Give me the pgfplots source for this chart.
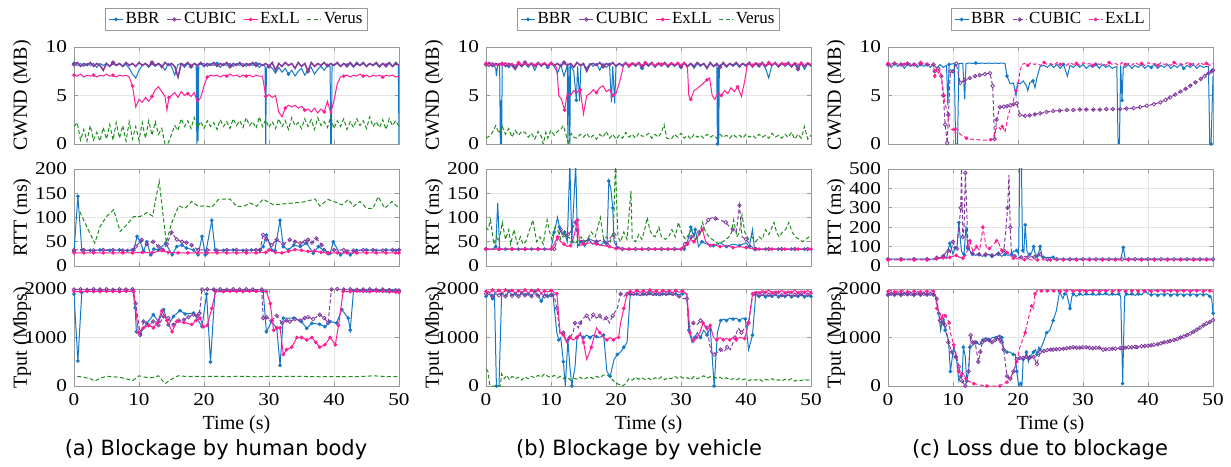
\documentclass[border=0pt]{standalone}
\usepackage{pgfplots}
\pgfplotsset{compat=1.18}
\usepackage{fontspec}
\setmainfont{Liberation Serif}
\newfontfamily\tickfont[FakeStretch=1.18]{Liberation Serif}
\newfontfamily\capfont{DejaVu Sans}
\definecolor{cbbr}{RGB}{20,120,200}
\definecolor{ccub}{RGB}{130,60,160}
\definecolor{cexl}{RGB}{255,30,150}
\definecolor{cver}{RGB}{30,140,30}
\pgfplotsset{
 panel/.style={scale only axis, width=162.5pt, height=48.5pt, xmin=0, xmax=50,
  xtick={0,10,20,30,40,50}, grid=major, major grid style={black!10, line width=0.3pt},
  axis line style={black!40, line width=0.4pt}, tick style={black!40, line width=0.4pt},
  major tick length=2pt, tick align=inside,
  tick label style={font=\tickfont\fontsize{9}{10}\selectfont},
  label style={font=\fontsize{10}{11}\selectfont},
  ylabel style={at={(axis description cs:-0.16,0.5)}, anchor=center},
  xlabel style={at={(axis description cs:0.5,-0.40)}, anchor=center},
  /pgf/number format/assume math mode=true, /pgf/number format/1000 sep={},
  clip mode=individual, anchor=south west,
  legend style={at={(0.5,1)}, anchor=south, yshift=8pt, legend columns=-1, draw=black!40,
   line width=0.4pt, font=\fontsize{8.5}{9}\selectfont, inner xsep=1.5pt, inner ysep=1pt,
   nodes={inner xsep=1pt, inner ysep=1pt},
   /tikz/every even column/.append style={column sep=2.5pt}},
  legend image code/.code={\draw[mark repeat=2,mark phase=2,#1] plot coordinates {(0pt,0pt) (3.5pt,0pt) (7pt,0pt)};}},
 notx/.style={xticklabels={}},
 cw/.style={ymin=0, ymax=10, ytick={0,5,10}, ylabel={CWND (MB)}},
 rt/.style={ymin=0, ymax=200, ytick={0,50,100,150,200}, ylabel={RTT (ms)}},
 tp/.style={ymin=0, ymax=2000, ytick={0,1000,2000}, ylabel={Tput (Mbps)}, xlabel={Time (s)}},
 sbbr/.style={cbbr, solid, line width=0.5pt, mark=*, mark size=0.65pt, mark options={solid, fill=cbbr}},
 scub/.style={ccub, dash pattern=on 2pt off 1.2pt, line width=0.5pt, mark=o, mark size=0.9pt, mark options={solid, line width=0.4pt}},
 sexl/.style={cexl, solid, line width=0.5pt, mark=*, mark size=0.65pt, mark options={solid, fill=cexl}},
 sver/.style={cver, dash pattern=on 2pt off 1.2pt, line width=0.5pt, mark=none},
}
\begin{document}
\begin{tikzpicture}
\path[use as bounding box] (0,0) rectangle (615.5pt,233pt);
%================ (a) =================
\begin{axis}[panel, cw, notx, at={(37pt,161pt)}]
\addplot[sbbr, mark repeat=12] coordinates {(0,8.3)(0.5,8.1)(1,8.3)(1.5,8.0)(2,8.3)(2.5,8.1)(3,8.3)(3.5,7.9)(4,8.3)(4.5,8.1)(5,8.3)(5.5,8.0)(6,8.3)(6.5,8.1)(7,8.3)(7.5,8.0)(8,8.2)(8.5,7.8)(9,7.2)(9.5,6.8)(10,7.6)(10.5,8.1)(11,8.3)(11.5,7.9)(12,8.3)(12.5,8.0)(13,8.3)(13.5,8.1)(14,7.6)(14.5,8.3)(15,8.0)(15.5,7.1)(16,8.2)(16.5,8.3)(17,7.9)(17.5,8.3)(18,8.0)(18.5,8.3)(18.8,8.2)(18.9,0)(19.0,8.0)(19.1,0.3)(19.2,8.2)(19.5,8.2)(20,8.3)(20.5,8.0)(21,8.3)(21.5,8.1)(22,8.3)(22.5,7.9)(23,8.3)(23.5,8.1)(24,8.3)(24.5,8.0)(25,8.3)(25.5,8.1)(26,8.3)(26.5,8.0)(27,8.3)(27.5,8.1)(28,8.3)(28.5,7.9)(29,8.2)(29.4,8.0)(29.5,0)(29.6,7.8)(30,8.1)(30.5,7.8)(31,7.3)(31.5,7.9)(32,7.4)(32.5,7.8)(33,7.2)(33.5,7.6)(34,7.0)(34.5,7.5)(35,7.8)(35.5,7.1)(36,7.6)(36.5,7.9)(37,7.2)(37.5,7.7)(38,8.0)(38.5,7.6)(39,8.1)(39.4,8.0)(39.5,0)(39.6,0)(39.7,8.1)(40,8.2)(40.5,8.3)(41,8.0)(41.5,8.3)(42,8.1)(42.5,8.3)(43,7.9)(43.5,8.3)(44,8.1)(44.5,8.3)(45,8.0)(45.5,8.3)(46,8.1)(46.5,8.3)(47,7.9)(47.5,8.3)(48,8.1)(48.5,8.3)(49,8.0)(49.5,8.3)(49.9,8.2)(50,0)};
\addplot[scub, solid, line width=0.8pt, mark repeat=12] coordinates {(0,8.2)(0.5,8.4)(1,8.0)(1.5,8.3)(2,8.1)(2.5,8.4)(3,8.0)(3.5,8.3)(4,8.1)(4.5,7.6)(5,8.3)(5.5,8.0)(6,8.4)(6.5,8.1)(7,8.3)(7.5,8.0)(8,8.4)(8.5,8.1)(9,8.3)(9.5,8.0)(10,8.4)(10.5,8.1)(11,8.3)(11.5,8.0)(12,8.4)(12.5,8.1)(13,8.3)(13.5,7.9)(14,8.4)(14.5,8.1)(15,8.3)(15.5,8.0)(16,6.9)(16.5,8.3)(17,8.1)(17.5,8.4)(18,8.0)(18.5,8.3)(19,8.1)(19.5,8.4)(20,8.0)(20.5,8.3)(21,8.1)(21.5,8.4)(22,8.0)(22.5,8.3)(23,8.1)(23.5,8.4)(24,8.0)(24.5,8.3)(25,8.1)(25.5,8.4)(26,8.0)(26.5,8.3)(27,8.1)(27.5,8.4)(28,8.0)(28.5,8.3)(29,8.1)(29.5,8.3)(30,8.0)(30.5,8.4)(31,7.6)(31.5,8.3)(32,8.0)(32.5,8.4)(33,8.1)(33.5,8.3)(34,7.8)(34.5,8.4)(35,8.0)(35.5,8.3)(36,7.5)(36.5,8.4)(37,8.0)(37.5,8.3)(38,8.1)(38.5,8.4)(39,8.0)(39.5,8.3)(40,8.1)(40.5,8.4)(41,8.0)(41.5,8.3)(42,8.1)(42.5,8.4)(43,8.0)(43.5,8.3)(44,8.1)(44.5,8.4)(45,8.0)(45.5,8.3)(46,8.1)(46.5,8.4)(47,8.0)(47.5,8.3)(48,8.1)(48.5,8.4)(49,8.0)(49.5,8.3)(50,8.1)};
\addplot[sexl, mark repeat=6] coordinates {(0,7.1)(0.5,7.0)(1,7.2)(1.5,6.9)(2,7.1)(2.5,7.0)(3,7.1)(3.5,6.9)(4,7.1)(4.5,7.0)(5,7.2)(5.5,7.0)(6,7.1)(6.5,6.9)(7,7.1)(7.5,7.0)(8,7.1)(8.5,6.9)(9,6.0)(9.5,3.8)(10,4.6)(10.5,4.3)(11,4.8)(11.5,4.4)(12,4.9)(12.5,5.6)(13,5.9)(13.5,5.4)(14,4.9)(14.3,3.5)(14.6,4.8)(15,5.0)(15.5,5.3)(16,4.8)(16.5,5.4)(17,5.0)(17.5,5.2)(18,4.9)(18.5,5.3)(19,4.3)(19.5,4.8)(20,6.0)(20.5,6.9)(21,7.1)(21.5,7.0)(22,7.1)(22.5,6.9)(23,7.1)(23.5,7.0)(24,7.2)(24.5,7.0)(25,7.1)(25.5,6.9)(26,7.1)(26.5,7.0)(27,7.1)(27.5,6.9)(28,7.1)(28.5,7.0)(29,7.0)(29.5,4.9)(30,5.1)(30.5,4.8)(31,5.0)(31.5,3.3)(32,2.8)(32.5,3.7)(33,4.0)(33.5,3.8)(34,4.0)(34.5,3.7)(35,3.9)(35.5,3.5)(36,3.6)(36.5,3.3)(37,3.7)(37.5,3.2)(38,3.6)(38.5,3.3)(39,4.4)(39.5,3.2)(40,4.5)(40.5,6.2)(41,6.9)(41.5,7.0)(42,7.1)(42.5,6.9)(43,7.1)(43.5,7.0)(44,7.2)(44.5,7.0)(45,7.1)(45.5,6.9)(46,7.1)(46.5,7.0)(47,7.1)(47.5,6.9)(48,7.1)(48.5,7.0)(49,7.1)(49.5,6.9)(50,7.0)};
\addplot[sver] coordinates {(0,1.8)(0.5,2.2)(1,0.4)(1.5,1.5)(2,0.3)(2.5,1.9)(3,0.4)(3.5,1.2)(4,0.3)(4.5,1.7)(5,0.5)(5.5,2.0)(6,0.4)(6.5,2.2)(7,0.6)(7.5,1.9)(8,0.3)(8.5,2.3)(9,0.5)(9.5,1.8)(10,0.4)(10.5,2.2)(11,0.6)(11.5,2.4)(12,0.9)(12.5,2.3)(13,1.0)(13.5,1.6)(14,0.0)(14.5,0.1)(15,1.0)(15.5,1.9)(16,1.4)(16.5,2.6)(17,1.8)(17.5,2.4)(18,1.6)(18.5,2.7)(19,1.7)(19.5,2.3)(20,1.6)(20.5,2.4)(21,1.8)(21.5,2.2)(22,1.5)(22.5,2.5)(23,1.8)(23.5,2.3)(24,1.6)(24.5,2.6)(25,1.9)(25.5,2.4)(26,1.7)(26.5,2.7)(27,1.9)(27.5,2.3)(28,1.6)(28.5,2.8)(29,1.8)(29.5,2.5)(30,1.7)(30.5,2.3)(31,1.6)(31.5,2.6)(32,1.8)(32.5,2.4)(33,1.5)(33.5,2.7)(34,1.9)(34.5,2.2)(35,1.6)(35.5,2.6)(36,1.8)(36.5,2.5)(37,1.5)(37.5,2.7)(38,1.9)(38.5,2.3)(39,1.7)(39.5,2.8)(40,1.6)(40.5,2.4)(41,1.8)(41.5,2.6)(42,1.5)(42.5,2.3)(43,1.7)(43.5,2.6)(44,1.9)(44.5,2.4)(45,1.6)(45.5,2.8)(46,1.8)(46.5,2.3)(47,1.7)(47.5,2.5)(48,1.5)(48.5,2.6)(49,1.9)(49.5,2.4)(50,1.8)};
\legend{BBR,CUBIC,ExLL,Verus}
\end{axis}
\begin{axis}[panel, rt, notx, at={(37pt,100pt)}]
\addplot[sbbr] coordinates {(0,30)(0.6,144)(1.2,33)(2.5,32)(4,33)(5.5,32)(7,33)(8.2,32)(9.2,33)(9.7,61)(10.2,50)(10.7,30)(11.2,50)(11.8,23)(12.3,35)(13,33)(14.1,47)(15.1,23)(15.8,40)(16.6,43)(17.3,37)(18.4,33)(19.1,23)(19.7,61)(20.2,23)(21.2,94)(21.7,33)(23,32)(24.5,33)(26,32)(27.3,33)(28.6,33)(29.1,40)(29.6,64)(30.4,33)(30.9,32)(31.7,94)(32.2,40)(33,33)(33.8,43)(34.8,40)(35.8,47)(36.8,26)(37.6,40)(38.4,33)(39.4,26)(39.9,50)(41,23)(42,30)(42.5,23)(43.5,32)(45,33)(46.5,32)(48,33)(49.5,32)(50,32)};
\addplot[scub] coordinates {(0,33)(1.5,33)(3,32)(4.5,33)(6,33)(7.5,32)(9,33)(9.5,40)(10.4,54)(11.2,45)(12.2,50)(13,40)(13.7,33)(14.3,45)(15,69)(15.8,55)(16.6,50)(17.3,48)(18.1,43)(19.1,33)(20.5,33)(22,32)(23.5,33)(25,33)(26.5,32)(28,33)(28.6,33)(29.1,64)(29.6,55)(30.4,43)(31.2,54)(32.2,45)(33.2,54)(34,50)(34.8,47)(35.5,50)(36,54)(36.6,48)(37.3,57)(38.1,43)(39.1,26)(40,33)(41.5,33)(43,32)(44.5,33)(46,33)(47.5,32)(49,33)(50,33)};
\addplot[sexl] coordinates {(0,27)(1.5,27)(3,27)(4.5,27)(6,27)(7.5,27)(9,27)(10.5,28)(12,27)(13.5,32)(14.5,28)(16,27)(17.5,27)(19,27)(20.5,27)(22,27)(23.5,27)(25,27)(26.5,27)(28,27)(29.5,28)(30,33)(31,28)(32,27)(33,30)(34,34)(35,32)(36,30)(37,31)(38,28)(39,27)(40.5,27)(42,27)(43.5,27)(45,27)(46.5,27)(48,27)(49.5,27)(50,27)};
\addplot[sver] coordinates {(0.9,112)(2,80)(3.2,47)(4,81)(5,102)(6.1,116)(7.1,71)(8.1,85)(9.2,102)(10.2,102)(11.2,110)(12.1,103)(13.1,175)(14.2,48)(15,88)(16.1,124)(17.1,119)(18.1,133)(19.1,123)(20.2,124)(21.2,121)(22.2,137)(23.1,138)(24,138)(25,123)(26.1,123)(27.1,130)(28.1,123)(29.1,138)(30.7,126)(32.2,128)(33.8,130)(35.3,132)(37.1,138)(37.8,124)(39.1,137)(40.4,131)(41.2,126)(42.2,137)(43,123)(44,133)(45,119)(46,119)(46.8,143)(47.8,119)(48.9,133)(49.9,121)};
\end{axis}
\begin{axis}[panel, tp, at={(37pt,40pt)}]
\addplot[sbbr] coordinates {(0,1895)(0.6,516)(1.2,1930)(2,1960)(3,1950)(4,1965)(5,1955)(6,1960)(7,1950)(8,1960)(9.1,1955)(9.4,1612)(9.6,1117)(10.2,1082)(11.2,1294)(12.2,1470)(13,1329)(13.8,1577)(14.5,1258)(15.3,1435)(16.3,1555)(17.1,1485)(18.4,1506)(19.7,1223)(20.4,1895)(21,495)(21.7,1965)(23,1960)(24,1965)(25,1960)(26,1955)(27,1965)(28,1960)(29.1,1955)(29.6,1117)(30.4,1329)(31.2,1188)(31.7,424)(32.2,1400)(33.8,1400)(35,1329)(35.8,1188)(36.6,1294)(37.8,1273)(38.6,1223)(39.4,1329)(40.4,1300)(41.2,1577)(42.2,1400)(42.5,1150)(43,1965)(44,1960)(45,1955)(46,1965)(47,1960)(48,1955)(49,1960)(50,1955)};
\addplot[scub] coordinates {(0,1990)(1,1995)(2,1985)(3,1995)(4,1990)(5,1995)(6,1985)(7,1995)(8,1990)(9,1995)(9.5,1700)(10.2,1050)(10.7,1329)(11.5,1250)(12.2,1330)(13,1250)(13.8,1435)(14.5,1400)(15.3,1258)(16.1,1350)(16.9,1364)(17.6,1420)(18.4,1470)(19,1450)(19.3,1500)(19.7,1990)(20.5,1995)(21.5,1990)(22.5,1995)(23.5,1985)(24.5,1995)(25.5,1990)(26.5,1995)(27.5,1990)(28.9,1990)(29.1,1400)(29.6,1420)(30.4,1350)(31.2,1450)(32,1300)(32.7,1350)(33.2,1330)(34,1380)(34.8,1350)(35.5,1400)(36,1420)(36.8,1380)(37.8,1470)(38.5,1400)(39.1,1300)(39.6,1990)(40.5,2000)(41.5,1990)(42.5,1995)(43.5,1985)(44.5,1990)(45.5,1995)(46.5,1985)(47.5,1990)(48.5,1980)(49.5,1975)(50,1970)};
\addplot[sexl] coordinates {(0,1950)(1,1945)(2,1955)(3,1950)(4,1945)(5,1955)(6,1950)(7,1945)(8,1955)(9.2,1950)(9.9,1100)(10.7,1200)(11.5,1250)(12.2,1200)(12.8,1300)(13.5,1550)(14.3,1350)(15.1,1120)(15.8,1330)(16.9,1310)(18.1,1270)(18.8,1350)(19.4,1400)(19.9,1220)(20.5,1250)(21.2,1600)(21.8,1950)(23,1945)(24,1955)(25,1950)(26,1945)(27,1955)(28,1950)(29.6,1950)(30.2,1700)(30.7,1150)(31.2,1200)(31.7,1200)(32.2,650)(32.7,750)(33.5,800)(34.3,1000)(35,1000)(35.8,950)(36.6,1000)(37.2,900)(37.8,800)(38.6,850)(39.4,1000)(40.2,850)(40.7,1250)(41.4,1950)(42.5,1945)(43.5,1955)(44.5,1950)(45.5,1945)(46.5,1955)(47.5,1950)(48.5,1940)(49.5,1935)(50,1930)};
\addplot[sver] coordinates {(0.5,200)(1.5,180)(2.5,150)(3.2,100)(4,160)(5,200)(6,190)(7,180)(8,150)(9,110)(10,210)(11,180)(12,170)(13,210)(14,50)(15,140)(16,210)(17,200)(18,195)(19,200)(20,195)(22,200)(24,195)(26,200)(28,190)(30,200)(32,195)(34,200)(36,195)(38,190)(40,195)(42,190)(44,195)(46,210)(48,195)(50,195)};
\end{axis}
%================ (b) =================
\begin{axis}[panel, cw, notx, at={(243pt,161pt)}]
\addplot[sbbr, mark repeat=12] coordinates {(0,8.2)(0.5,8.0)(1,8.3)(1.5,7.8)(1.6,7.0)(1.8,8.2)(2.1,8.1)(2.2,0)(2.3,4.5)(2.4,0)(2.5,8.1)(3,8.3)(3.5,8.0)(4,8.3)(4.5,7.9)(5,8.3)(5.5,8.0)(6,8.3)(6.5,7.9)(7,8.3)(7.5,7.6)(8,8.3)(8.5,8.0)(9,8.3)(9.5,7.9)(10,8.3)(10.5,8.0)(11,7.3)(11.5,8.2)(12,7.0)(12.5,8.1)(12.6,0)(12.75,8.0)(12.9,0)(13.0,8.1)(13.5,7.5)(13.9,4.5)(14.1,8.0)(14.4,4.4)(14.6,8.1)(15,8.2)(15.5,7.8)(16,8.3)(16.5,8.0)(17,8.3)(17.5,7.6)(18,8.3)(18.5,7.9)(19,8.2)(19.3,4.3)(19.5,8.0)(19.8,4.2)(20,8.1)(20.5,8.3)(21,8.0)(21.5,8.3)(22,7.9)(22.5,8.3)(23,8.0)(23.5,8.3)(24,7.8)(24.5,8.3)(25,8.0)(25.5,8.3)(26,7.9)(26.5,8.3)(27,8.0)(27.5,8.3)(28,7.9)(28.5,8.3)(29,8.0)(29.5,8.3)(30,7.9)(30.5,8.3)(31,8.0)(31.5,8.3)(32,7.8)(32.5,8.3)(33,8.0)(33.5,8.3)(34,7.9)(34.5,8.3)(35,8.0)(35.5,8.2)(35.6,0)(35.7,7.9)(35.8,0)(35.9,8.1)(36.5,8.3)(37,7.9)(37.5,8.3)(38,8.0)(38.5,8.3)(39,7.9)(39.5,8.3)(40,8.0)(40.5,8.3)(41,7.9)(41.5,8.3)(42,8.0)(42.5,8.3)(43,7.8)(43.5,6.8)(44,8.2)(44.5,8.3)(45,7.9)(45.5,8.3)(46,8.0)(46.5,8.3)(47,7.9)(47.5,8.3)(48,8.0)(48.5,8.3)(49,7.7)(49.5,8.3)(50,8.0)};
\addplot[scub, solid, line width=0.8pt, mark repeat=12] coordinates {(0,8.2)(0.5,8.4)(1,8.0)(1.5,8.3)(2,8.1)(2.5,8.4)(3,8.0)(3.5,8.3)(4,8.1)(4.5,7.7)(5,8.3)(5.5,8.0)(6,8.4)(6.5,8.1)(7,8.3)(7.5,8.0)(8,8.4)(8.5,8.1)(9,8.3)(9.5,8.0)(10,8.4)(10.5,8.1)(11,8.3)(11.5,8.0)(12,8.4)(12.5,8.1)(13,8.3)(13.5,7.9)(14,8.4)(14.5,8.1)(15,8.3)(15.5,7.5)(16,8.2)(16.5,8.3)(17,8.1)(17.5,8.4)(18,8.0)(18.5,8.3)(19,8.1)(19.5,8.4)(20,8.0)(20.5,8.3)(21,8.1)(21.5,8.4)(22,8.0)(22.5,8.3)(23,8.1)(23.5,8.4)(24,8.0)(24.5,8.3)(25,8.1)(25.5,8.4)(26,8.0)(26.5,8.3)(27,8.1)(27.5,8.4)(28,8.0)(28.5,8.3)(29,8.1)(29.5,8.3)(30,8.0)(30.5,8.4)(31,8.0)(31.5,8.3)(32,8.0)(32.5,8.4)(33,8.1)(33.5,8.3)(34,7.8)(34.5,8.4)(35,8.0)(35.5,8.3)(36,7.9)(36.5,8.4)(37,8.0)(37.5,8.3)(38,8.1)(38.5,8.4)(39,8.0)(39.5,8.3)(40,8.1)(40.5,8.4)(41,8.0)(41.5,8.3)(42,8.1)(42.5,8.4)(43,8.0)(43.5,8.3)(44,8.1)(44.5,8.4)(45,8.0)(45.5,8.3)(46,8.1)(46.5,8.4)(47,8.0)(47.5,8.3)(48,7.7)(48.5,8.4)(49,8.0)(49.5,8.3)(50,8.1)};
\addplot[sexl, mark repeat=5] coordinates {(0,8.3)(0.5,8.1)(1,8.4)(1.5,8.1)(2,8.3)(2.5,8.2)(3,8.4)(3.5,8.1)(4,8.3)(4.5,8.1)(5,8.4)(5.5,8.2)(6,8.3)(6.5,8.1)(7,8.4)(7.5,8.1)(8,8.3)(8.5,8.2)(9,8.4)(9.5,8.1)(10,8.3)(10.5,8.2)(10.9,7.8)(11.2,5.0)(11.6,4.6)(12.1,3.5)(12.5,5.2)(13,5.0)(13.5,5.5)(14,5.3)(14.5,5.6)(15,3.1)(15.5,5.0)(16,5.2)(16.5,5.6)(17,5.3)(17.5,5.8)(18,6.0)(18.5,5.4)(19,5.6)(19.5,5.0)(20,5.2)(20.6,6.5)(21.2,8.2)(21.5,8.3)(22,8.1)(22.5,8.4)(23,8.2)(23.5,8.3)(24,8.1)(24.5,8.4)(25,8.2)(25.5,8.3)(26,8.1)(26.5,8.4)(27,8.2)(27.5,8.3)(28,8.1)(28.5,8.4)(29,8.2)(29.5,8.3)(30,8.1)(30.5,8.4)(31,7.8)(31.2,5.0)(31.5,4.6)(32,5.5)(32.5,5.7)(33,6.0)(33.5,6.3)(34,6.6)(34.4,6.8)(34.8,5.0)(35.2,4.6)(35.7,5.3)(36.2,5.0)(36.7,5.5)(37.2,5.2)(37.7,5.8)(38.2,5.4)(38.7,5.9)(39.3,4.9)(39.8,6.5)(40.2,8.2)(40.5,8.3)(41,8.1)(41.5,8.4)(42,8.2)(42.5,8.3)(43,8.1)(43.5,8.4)(44,8.2)(44.5,8.3)(45,8.1)(45.5,8.4)(46,8.2)(46.5,8.3)(47,8.1)(47.5,8.4)(48,8.2)(48.5,8.3)(49,8.1)(49.5,8.4)(50,8.2)};
\addplot[sver] coordinates {(0,0.6)(0.5,0.8)(1,1.2)(1.5,1.9)(2,1.1)(2.5,1.8)(3,1.0)(3.5,1.6)(4,0.7)(4.5,1.4)(5,0.9)(5.5,1.3)(6,1.2)(6.5,0.7)(7,1.1)(7.5,0.5)(8,1.3)(8.5,0.8)(8.8,0.0)(9.2,1.2)(9.5,0.6)(10,1.4)(10.5,0.9)(11,1.3)(11.5,1.5)(11.9,1.9)(12.3,1.0)(12.7,0.0)(13.1,1.1)(13.5,0.7)(14,0.6)(14.5,1.0)(15,0.7)(15.5,1.1)(16,0.6)(16.5,0.9)(17,0.5)(17.5,1.0)(18,0.7)(18.5,1.3)(19,0.6)(19.5,1.0)(20,0.5)(20.5,0.9)(21,0.6)(21.5,1.2)(22,0.7)(22.5,1.0)(23,0.6)(23.5,1.1)(24,0.8)(24.5,0.8)(25,1.1)(25.5,0.6)(26,1.0)(26.5,0.7)(27,1.2)(27.4,2.0)(27.8,0.6)(28.5,0.5)(29,1.0)(29.5,0.7)(30,1.1)(30.5,0.6)(31,0.9)(31.5,0.5)(32,1.0)(32.5,0.7)(33,0.9)(33.5,0.6)(34,1.0)(34.5,0.7)(35,0.9)(35.5,0.6)(36,1.0)(36.5,0.7)(37,0.9)(37.5,0.6)(38,1.0)(38.5,0.7)(39,0.9)(39.5,0.6)(40,1.0)(40.5,0.7)(41,0.9)(41.5,0.6)(42,1.0)(42.5,0.7)(43,0.9)(43.5,0.6)(44,1.1)(44.5,0.7)(45,0.9)(45.5,0.6)(46,1.0)(46.5,0.7)(47,1.2)(47.5,0.5)(48,1.0)(48.5,0.6)(49,1.8)(49.5,0.5)(50,0.9)};
\legend{BBR,CUBIC,ExLL,Verus}
\end{axis}
\begin{axis}[panel, rt, notx, at={(243pt,100pt)}]
\addplot[sbbr, mark repeat=2] coordinates {(0,35)(1,35)(1.5,40)(1.8,130)(2.1,35)(2.4,35)(3,35)(4,35)(5,35)(6,35)(7,35)(8,35)(9,35)(10,35)(10.5,70)(11,100)(11.3,80)(11.7,65)(12.1,70)(12.5,50)(12.9,210)(13.2,50)(13.8,210)(14.1,40)(14.6,50)(15.2,40)(15.8,55)(16.4,45)(17,50)(17.6,42)(18.2,50)(18.6,45)(18.9,175)(19.2,160)(19.5,120)(19.7,50)(20.2,38)(21,35)(22,35)(23,35)(24,35)(25,35)(26,35)(27,35)(28,35)(29,35)(30.5,35)(31,50)(31.5,80)(32,60)(32.2,75)(32.7,40)(33.2,50)(34,45)(35,42)(36,48)(37,40)(38,45)(39,42)(40,48)(40.5,40)(41,75)(41.3,35)(42,35)(43,35)(44,35)(45,35)(46,35)(47,35)(48,35)(49,35)(50,35)};
\addplot[scub, mark repeat=2] coordinates {(0,35)(1,35)(2,35)(3,35)(4,35)(5,35)(6,35)(7,35)(8,35)(9,35)(10.5,35)(11,55)(11.5,75)(12,60)(12.6,65)(13,70)(13.8,90)(14.1,55)(15,50)(16,55)(17,50)(18.1,55)(18.6,45)(19.2,60)(19.7,65)(20.2,40)(21,35)(22,35)(23,35)(24,35)(25,35)(26,35)(27,35)(28,35)(29,35)(30,35)(30.6,45)(31,50)(31.6,60)(32.2,55)(32.8,70)(33.5,80)(34.2,95)(34.8,100)(35.3,98)(36,95)(36.9,90)(37.5,80)(38,75)(38.5,70)(39,125)(39.4,60)(40,55)(40.8,40)(41.5,35)(42.5,35)(43.5,35)(44.5,35)(45.5,35)(46.5,35)(47.5,35)(48.5,35)(49.5,35)(50,35)};
\addplot[sexl, mark repeat=2] coordinates {(0,35)(1,35)(2,35)(3,35)(4,35)(5,35)(6,35)(7,35)(8,35)(9,35)(10,35)(10.5,45)(11,60)(11.5,50)(12,45)(12.5,40)(13,42)(13.5,60)(14.1,95)(14.4,42)(15,45)(16,48)(17,45)(18,42)(19,40)(19.5,38)(20,36)(21,35)(22,35)(23,35)(24,35)(25,35)(26,35)(27,35)(28,35)(29,35)(30,35)(30.5,40)(31,45)(31.5,55)(32,50)(32.5,60)(33.3,75)(33.8,50)(34.5,42)(35,45)(36,40)(37,42)(38,38)(39,40)(40,38)(41,36)(42,35)(43,35)(44,35)(45,35)(46,35)(47,35)(48,35)(49,35)(50,35)};
\addplot[sver] coordinates {(0,80)(0.3,75)(0.7,95)(1.2,45)(1.6,60)(2,50)(2.5,90)(3,55)(3.5,75)(3.8,45)(4.3,75)(4.8,45)(5.3,60)(5.7,45)(6.1,50)(6.6,70)(7.2,95)(7.8,50)(8.3,60)(8.8,45)(9.4,95)(9.8,70)(10.1,55)(10.6,80)(11,75)(11.5,55)(12,65)(12.6,60)(13.2,55)(13.7,45)(14.2,55)(14.6,60)(15.1,50)(15.6,55)(16.2,70)(16.8,60)(17.3,85)(17.6,100)(18.1,55)(18.6,60)(19.1,50)(19.6,70)(19.9,210)(20.3,60)(20.7,50)(21.2,70)(21.7,55)(22.3,155)(22.5,55)(23,50)(23.5,65)(24,55)(24.4,75)(24.8,100)(25.2,75)(25.5,65)(26,60)(26.6,80)(27,60)(27.6,55)(28.1,60)(28.6,75)(29.1,60)(29.6,90)(30.2,65)(30.7,55)(31.2,65)(31.7,75)(32.2,55)(32.8,60)(33.3,90)(33.8,70)(34.3,60)(34.8,55)(35.3,50)(35.8,45)(36.4,50)(36.9,55)(37.4,60)(37.8,70)(38.1,95)(38.6,60)(39,70)(39.4,105)(39.8,70)(40.4,55)(40.9,60)(41.5,50)(42,60)(42.5,55)(43,75)(43.5,65)(44,80)(44.3,90)(44.7,70)(45.1,60)(45.6,70)(46.1,75)(46.6,90)(47.1,70)(47.6,60)(48.2,55)(48.7,50)(49.2,55)(49.7,60)(50,58)};
\end{axis}
\begin{axis}[panel, tp, at={(243pt,40pt)}]
\addplot[sbbr, mark repeat=2] coordinates {(0,1850)(0.5,1900)(1,1800)(1.3,1900)(1.6,0)(2,0)(2.4,1900)(3,1850)(3.5,1950)(4,1880)(4.5,1900)(5,1850)(5.5,1920)(6,1870)(6.5,1900)(7,1850)(7.5,1950)(8,1880)(8.5,1750)(9,1900)(9.5,1850)(10,1900)(10.3,1880)(10.9,1100)(11.2,950)(11.5,1000)(11.9,500)(12.2,0)(12.6,950)(12.9,400)(13.2,0)(13.7,400)(14,1000)(14.5,1050)(15,1000)(15.5,1050)(16,1000)(16.5,1050)(17,1020)(17.5,1000)(18.1,1050)(18.6,300)(19.1,200)(19.7,550)(20.2,650)(20.7,700)(21.2,800)(21.7,900)(22.2,1900)(22.7,1880)(23.2,1900)(23.7,1860)(24.2,1900)(24.7,1880)(25.2,1920)(25.7,1870)(26.2,1900)(26.7,1860)(27.2,1900)(27.7,1880)(28.2,1910)(28.7,1870)(29.2,1900)(29.7,1880)(30.2,1900)(30.9,1900)(31.2,1150)(31.7,900)(32.1,1000)(32.5,1100)(33,1000)(33.5,1150)(34,1050)(34.5,1200)(35.1,0)(35.6,1100)(36.1,1350)(36.6,1380)(37,1350)(37.5,1400)(38,1380)(38.5,1400)(39,1350)(39.5,1400)(39.9,1380)(40.4,750)(41,1050)(41.5,1900)(42,1850)(42.5,1880)(43,1840)(43.5,1870)(44,1850)(44.5,1890)(45,1840)(45.5,1870)(46,1850)(46.5,1880)(47,1840)(47.5,1870)(48,1850)(48.5,1880)(49,1840)(49.5,1860)(50,1850)};
\addplot[scub, mark repeat=2] coordinates {(0,1900)(0.5,1950)(1,1850)(1.5,1900)(2,1870)(2.5,1920)(3,1850)(3.5,1900)(4,1860)(4.5,1930)(5,1850)(5.5,1900)(6,1870)(6.5,1920)(7,1850)(7.5,1900)(8,1860)(8.5,1910)(9,1850)(9.5,1900)(10,1870)(10.5,1850)(10.9,1600)(11.4,1050)(11.9,1100)(12.4,900)(12.9,1000)(13.4,1100)(13.7,1300)(14.2,1200)(14.5,1300)(15,1400)(15.5,1450)(16,1350)(16.5,1470)(17,1400)(17.5,1450)(18,1350)(18.5,1400)(19,1300)(19.5,1450)(20.2,1600)(20.7,1900)(21.2,1850)(21.7,1900)(22.2,1870)(22.7,1900)(23.2,1880)(23.7,1900)(24.2,1870)(24.7,1900)(25.2,1880)(25.7,1900)(26.2,1870)(26.7,1900)(27.2,1880)(27.7,1900)(28.2,1870)(28.7,1900)(29.2,1880)(29.7,1850)(30.3,1800)(30.9,1800)(31.2,1200)(31.9,1300)(32.4,1250)(33,1350)(33.5,1300)(34,1200)(34.6,700)(35.1,650)(35.6,700)(36.1,750)(36.6,700)(37.1,800)(37.6,750)(38.3,1000)(38.8,1200)(39.3,1100)(39.8,1200)(40.4,1300)(41,1850)(41.5,1900)(42,1850)(42.5,1900)(43,1860)(43.5,1880)(44,1840)(44.5,1900)(45,1850)(45.5,1870)(46,1830)(46.5,1900)(47,1850)(47.5,1880)(48,1840)(48.5,1890)(49,1850)(49.5,1880)(50,1880)};
\addplot[sexl, mark repeat=2] coordinates {(0,1950)(0.5,1920)(1,1980)(1.5,1930)(2,1970)(2.5,1920)(3,1980)(3.5,1940)(4,1970)(4.5,1920)(5,1960)(5.5,1930)(6,1980)(6.5,1920)(7,1970)(7.5,1930)(8,1980)(8.5,1920)(9,1960)(9.5,1940)(10,1970)(10.5,1930)(10.9,1900)(11.4,1100)(11.9,1050)(12.4,900)(12.9,1000)(13.4,950)(14,1000)(14.5,1100)(15,900)(15.5,550)(16.2,800)(17,1200)(17.5,1100)(18.1,1000)(18.6,950)(19.1,1000)(19.6,950)(20.1,1000)(20.4,1000)(20.7,1300)(21.2,1600)(21.7,1900)(22.2,1950)(22.7,1920)(23.2,1970)(23.7,1930)(24.2,1960)(24.7,1920)(25.2,1980)(25.7,1930)(26.2,1960)(26.7,1920)(27.2,1970)(27.7,1940)(28.2,1960)(28.7,1920)(29.2,1970)(29.7,1930)(30.2,1960)(30.9,1900)(31.4,1100)(31.9,900)(32.4,1000)(32.9,1100)(33.4,1300)(34,1150)(34.5,1250)(35,1000)(35.5,950)(36,1000)(36.5,950)(37,980)(37.5,950)(38,1000)(38.5,950)(39,1000)(39.8,980)(40.4,1300)(41,1900)(41.5,1950)(42,1920)(42.5,1970)(43,1930)(43.5,1980)(44,1920)(44.5,1960)(45,1930)(45.5,1970)(46,1920)(46.5,1960)(47,1930)(47.5,1980)(48,1920)(48.5,1960)(49,1930)(49.5,1970)(50,1920)};
\addplot[sver] coordinates {(0,350)(0.3,300)(0.6,0)(1,0)(2.2,0)(2.4,250)(2.8,150)(3.2,220)(3.6,130)(4,200)(4.5,150)(5,180)(5.5,120)(6,190)(6.5,150)(7,200)(7.5,170)(8,220)(8.5,180)(9,250)(9.5,200)(10,180)(10.5,220)(11,170)(11.5,200)(12,150)(12.5,180)(13,120)(13.5,160)(14,140)(14.5,180)(15,130)(15.5,170)(16,190)(16.5,150)(17,200)(17.5,170)(18,220)(18.5,240)(19,200)(19.5,120)(20,60)(20.5,30)(21,0)(21.5,50)(22,150)(22.5,120)(23,180)(23.5,140)(24,170)(24.5,130)(25,160)(25.5,120)(26,170)(26.5,140)(27,190)(27.5,130)(28,170)(28.5,150)(29,200)(29.5,160)(30,190)(30.5,150)(31,170)(31.5,130)(32,200)(32.5,150)(33,180)(33.5,210)(34,160)(34.5,190)(35,200)(35.5,160)(36,180)(36.5,140)(37,170)(37.5,130)(38,150)(38.5,120)(39,160)(39.5,130)(40,150)(40.5,110)(41,140)(41.5,120)(42,150)(42.5,100)(43,140)(43.5,120)(44,150)(44.5,110)(45,130)(45.5,100)(46,140)(46.5,120)(47,150)(47.5,100)(48,130)(48.5,110)(49,140)(49.5,120)(50,130)};
\end{axis}
%================ (c) =================
\begin{axis}[panel, cw, notx, at={(444pt,161pt)}]
\addplot[sbbr, mark repeat=10] coordinates {(0,8.2)(0.5,7.9)(1,8.3)(1.5,8.0)(2,8.3)(2.5,7.8)(3,8.2)(3.5,8.0)(4,8.3)(4.5,7.9)(5,8.2)(5.5,8.0)(6,8.3)(6.5,7.9)(7,8.2)(7.5,7.8)(8,8.2)(8.5,7.9)(9.0,8.1)(9.2,4.0)(9.4,8.2)(10.2,8.3)(10.4,0)(10.7,0)(10.9,8.3)(11.5,8.3)(11.8,4.6)(12.0,8.3)(12.5,8.35)(13,8.3)(13.5,8.35)(14,8.3)(14.5,8.35)(15,8.3)(15.5,8.35)(16,8.3)(16.5,8.35)(17,8.3)(17.5,8.35)(18,8.3)(18.3,7.0)(18.8,6.2)(19.3,6.3)(19.7,5.0)(19.9,6.3)(20.3,6.2)(20.8,6.5)(21.3,6.0)(21.5,5.5)(21.8,6.3)(22.3,6.5)(22.6,5.8)(22.9,6.8)(23.4,8.0)(24,8.1)(24.5,7.9)(25,8.2)(25.5,7.9)(26,8.2)(26.5,7.8)(27,8.2)(27.6,7.0)(28,8.1)(28.5,7.9)(29,8.2)(29.5,7.9)(30,8.2)(30.5,7.8)(31,8.1)(31.5,7.9)(32,8.2)(32.5,7.8)(33,8.2)(33.5,7.9)(34,8.1)(34.5,7.8)(35.2,8.0)(35.4,0)(35.6,0)(35.8,8.1)(36,4.5)(36.2,8.0)(36.5,7.9)(37,8.2)(37.5,7.8)(38,8.1)(38.5,7.9)(39,8.2)(39.5,7.8)(40,8.1)(40.5,7.9)(41,8.2)(41.5,7.8)(42,8.1)(42.5,7.9)(43,8.2)(43.5,7.8)(44,8.1)(44.5,7.9)(45,8.2)(45.5,7.8)(46,8.1)(46.5,7.9)(47,8.2)(47.5,7.8)(48,8.1)(48.5,7.9)(49,8.0)(49.3,8.0)(49.5,0)(49.7,0)(50,7.0)};
\addplot[scub] coordinates {(0,8.2)(1,8.3)(2,8.2)(3,8.3)(4,8.2)(5,8.3)(6,8.2)(7,8.2)(7.2,7.5)(7.7,7.8)(8.2,7.0)(8.5,5.0)(8.8,2.0)(9.1,0.1)(9.3,3.0)(9.6,7.5)(10,7.5)(10.5,8.3)(11.1,6.3)(11.8,6.6)(12.6,6.8)(13.4,7.0)(14.1,7.1)(14.9,7.2)(15.7,7.3)(16.1,6.0)(16.4,0.5)(16.7,2.5)(17.2,3.8)(17.8,3.85)(18.3,3.9)(18.8,4.0)(19.3,4.1)(19.8,4.2)(20.3,3.0)(21.1,2.9)(21.8,2.95)(22.6,3.05)(23.4,3.15)(24.4,3.3)(25.4,3.4)(26.4,3.45)(27.5,3.5)(28.5,3.5)(29.5,3.55)(30.5,3.55)(31.6,3.55)(32.6,3.55)(33.6,3.6)(34.6,3.6)(35.7,3.6)(36.7,3.65)(37.8,3.7)(38.8,3.8)(39.8,3.95)(40.9,4.1)(41.9,4.3)(42.7,4.55)(43.4,4.8)(44.2,5.1)(45,5.4)(45.8,5.7)(46.5,6.0)(47.3,6.35)(48.1,6.7)(48.7,7.0)(49.3,7.3)(49.8,7.5)(50,7.6)};
\addplot[sexl, dash pattern=on 2pt off 1.2pt, mark repeat=5] coordinates {(0,8.3)(0.5,8.1)(1,8.4)(1.5,8.1)(2,8.3)(2.5,8.2)(3,8.4)(3.5,8.1)(4,8.3)(4.5,8.1)(5,8.4)(5.5,8.2)(6,8.3)(6.5,8.1)(7,8.2)(7.2,7.0)(7.5,7.6)(7.7,7.2)(8.0,7.6)(8.3,6.5)(8.6,5.0)(8.8,4.0)(9.1,3.5)(9.4,2.0)(9.6,1.5)(10.1,1.5)(10.4,1.0)(10.6,1.6)(11.1,1.0)(11.6,0.8)(12.1,0.6)(12.8,0.5)(13.6,0.45)(14.4,0.4)(15.2,0.4)(15.8,0.45)(16.2,0.5)(16.5,1.5)(17,1.8)(17.3,1.5)(17.6,1.8)(18,1.2)(18.5,3.0)(19,4.0)(19.3,4.5)(19.7,5.5)(20,6.0)(20.3,7.5)(20.6,8.2)(21,8.3)(21.5,8.1)(22,8.4)(22.5,8.2)(23,8.3)(23.5,8.1)(24,8.4)(24.5,8.2)(25,8.3)(25.5,8.1)(26,8.4)(26.5,8.2)(27,8.3)(27.5,8.1)(28,8.4)(28.5,8.2)(29,8.3)(29.5,8.1)(30,8.4)(30.5,8.2)(31,8.3)(31.5,8.1)(32,8.4)(32.5,8.2)(33,8.3)(33.5,8.1)(34,8.4)(34.5,8.2)(35,8.3)(35.5,8.1)(36,8.4)(36.5,8.2)(37,8.3)(37.5,8.1)(38,8.4)(38.5,8.2)(39,8.3)(39.5,8.1)(40,8.4)(40.5,8.2)(41,8.3)(41.5,8.1)(42,8.4)(42.5,8.2)(43,8.3)(43.5,8.1)(44,8.4)(44.5,8.2)(45,8.3)(45.5,8.1)(46,8.4)(46.5,8.2)(47,8.3)(47.5,8.1)(48,8.4)(48.5,8.2)(49,8.3)(49.5,8.1)(50,8.3)};
\legend{BBR,CUBIC,ExLL}
\end{axis}
\begin{axis}[panel, notx, ymin=0, ymax=500, ytick={0,100,200,300,400,500}, ylabel={RTT (ms)}, at={(444pt,100pt)}]
\addplot[sbbr, mark repeat=2] coordinates {(0,35)(1,35)(2,35)(3,35)(4,35)(5,35)(6,35)(7,35)(7.5,45)(8,42)(8.5,50)(9,40)(9.5,117)(10,60)(10.3,95)(10.6,90)(10.9,224)(11.3,75)(11.7,60)(12,207)(12.3,90)(12.6,80)(13,60)(13.5,55)(14,60)(14.5,50)(15,55)(15.5,60)(16,50)(16.5,55)(17,65)(17.5,50)(18,60)(18.5,55)(19,60)(19.3,75)(19.8,80)(20.1,60)(20.3,600)(20.5,600)(20.7,80)(20.9,70)(21.1,212)(21.4,70)(21.8,60)(22.1,70)(22.4,100)(22.7,55)(22.9,50)(23.2,70)(23.4,100)(23.7,50)(23.9,45)(24.5,45)(25.4,45)(26,36)(27,35)(28,35)(29,35)(30,35)(31,35)(32,35)(33,35)(34,35)(35,35)(35.8,35)(36.2,95)(36.5,35)(37,36)(38,35)(39,35)(40,35)(41,35)(42,35)(43,35)(44,35)(45,35)(46,35)(47,35)(48,35)(49,35)(50,35)};
\addplot[scub, mark repeat=2] coordinates {(0,35)(1,35)(2,35)(3,35)(4,35)(5,35)(6,35)(7,35)(7.5,40)(8,42)(8.5,50)(9,75)(9.3,80)(9.6,70)(10,125)(10.3,100)(10.6,90)(10.9,200)(11.2,300)(11.3,500)(11.5,150)(11.7,200)(11.9,480)(12.1,300)(12.3,100)(12.6,70)(13,65)(13.5,60)(14,60)(14.5,55)(15,60)(15.5,58)(16,55)(16.5,60)(17,62)(17.5,65)(17.8,80)(18.1,170)(18.4,300)(18.6,470)(18.8,200)(19,60)(19.5,50)(19.8,45)(20.5,45)(21,50)(21.5,45)(22,48)(22.5,45)(23,55)(23.4,60)(23.8,40)(24.5,35)(25,35)(26,35)(27,35)(28,35)(29,35)(30,35)(31,35)(32,35)(33,35)(34,35)(35,35)(36,35)(37,35)(38,35)(39,35)(40,35)(41,35)(42,35)(43,35)(44,35)(45,35)(46,35)(47,35)(48,35)(49,35)(50,35)};
\addplot[sexl, dash pattern=on 2pt off 1.2pt, mark repeat=2] coordinates {(0,32)(1,32)(2,32)(3,32)(4,32)(5,32)(6,32)(7,32)(7.5,38)(8,40)(8.5,42)(9,40)(9.5,45)(10,50)(10.5,55)(11,45)(11.5,40)(12,55)(12.6,130)(13.1,70)(13.6,100)(14.1,80)(14.6,200)(15.1,100)(15.6,90)(16.2,110)(16.7,130)(17,120)(17.5,80)(18,75)(18.3,70)(18.8,55)(19.3,40)(20.3,35)(21,33)(22,32)(23,32)(24,32)(25,32)(26,32)(27,32)(28,32)(29,32)(30,32)(31,32)(32,32)(33,32)(34,32)(35,32)(36,32)(37,32)(38,32)(39,32)(40,32)(41,32)(42,32)(43,32)(44,32)(45,32)(46,32)(47,32)(48,32)(49,32)(50,32)};
\end{axis}
\begin{axis}[panel, tp, at={(444pt,40pt)}]
\addplot[sbbr, mark repeat=2] coordinates {(0,1880)(0.5,1900)(1,1890)(1.5,1900)(2,1880)(2.5,1910)(3,1890)(3.5,1900)(4,1880)(4.5,1900)(5,1890)(5.5,1910)(6,1880)(6.5,1900)(7,1890)(7.3,1850)(7.8,1500)(8.1,1150)(8.3,1300)(8.6,1400)(8.8,1150)(9.3,950)(9.6,300)(10.1,800)(10.5,600)(10.9,100)(11.2,200)(11.4,200)(11.6,800)(11.9,600)(12.1,100)(12.4,300)(12.6,800)(13.1,850)(13.6,900)(14.1,850)(14.6,950)(15.1,1000)(15.6,950)(16.1,1000)(16.6,1000)(17.2,1050)(17.5,1000)(17.8,750)(18.3,700)(18.8,700)(19.3,650)(19.6,650)(19.8,300)(20.1,0)(20.4,50)(20.6,0)(20.8,550)(21.1,600)(21.3,700)(21.6,500)(21.8,600)(22.1,650)(22.4,700)(22.7,750)(22.9,650)(23.2,800)(23.4,750)(23.9,900)(24.4,1100)(24.9,1150)(25.4,1350)(25.9,1550)(26.4,1950)(26.9,1800)(27.2,1900)(27.5,1900)(28,1600)(28.3,1850)(28.5,1900)(29,1850)(29.5,1900)(30,1870)(30.5,1900)(31,1880)(31.5,1900)(32,1870)(32.5,1900)(33,1880)(33.5,1910)(34,1870)(34.5,1900)(35,1880)(35.5,1900)(35.8,1850)(36.1,50)(36.4,1850)(36.7,1900)(37,1880)(37.5,1900)(38,1870)(38.5,1900)(39,1880)(39.5,1950)(40,1900)(40.5,1880)(41,1900)(41.5,1870)(42,1900)(42.5,1880)(43,1910)(43.5,1870)(44,1900)(44.5,1880)(45,1900)(45.5,1870)(46,1900)(46.5,1880)(47,1900)(47.5,1870)(48,1900)(48.5,1880)(49,1900)(49.5,1850)(49.8,1800)(50,1500)};
\addplot[scub] coordinates {(0,1880)(0.5,1900)(1,1880)(1.5,1910)(2,1880)(2.5,1900)(3,1890)(3.5,1900)(4,1880)(4.5,1910)(5,1880)(5.5,1900)(6,1890)(6.5,1900)(7,1880)(7.5,1800)(8,1350)(8.5,1300)(8.8,1250)(9.3,900)(9.8,700)(10.4,600)(10.9,400)(11.4,100)(11.9,0)(12.4,300)(12.7,1050)(13,900)(13.4,900)(13.9,500)(14.2,700)(14.5,900)(15,950)(15.5,950)(16,900)(16.5,950)(17,1000)(17.2,950)(17.5,900)(17.8,750)(18.3,200)(18.8,150)(19.3,300)(19.8,550)(20.3,580)(20.8,580)(21.3,600)(21.8,580)(22.4,600)(22.9,450)(23.4,700)(24,720)(24.5,740)(25,750)(25.4,750)(25.9,760)(26.4,760)(27,770)(27.5,780)(28,790)(28.5,800)(29,790)(29.5,790)(30,800)(30.5,800)(31,790)(31.5,780)(32,790)(32.5,790)(33.1,750)(33.5,760)(34,760)(34.5,770)(35,770)(35.7,780)(36.1,780)(36.5,790)(37,800)(37.5,800)(38,810)(38.3,800)(39,820)(39.5,825)(40,830)(40.5,840)(40.9,850)(41.5,860)(42,880)(42.5,900)(43,910)(43.4,930)(44,950)(44.5,970)(45,1000)(45.5,1020)(46,1050)(46.5,1080)(47,1120)(47.5,1160)(48,1200)(48.5,1250)(49,1290)(49.5,1320)(50,1360)};
\addplot[sexl, dash pattern=on 2pt off 1.2pt, mark repeat=2] coordinates {(0,1950)(0.5,1970)(1,1940)(1.5,1960)(2,1950)(2.5,1970)(3,1940)(3.5,1960)(4,1950)(4.5,1970)(5,1940)(5.5,1960)(6,1950)(6.5,1970)(7,1950)(7.3,1900)(7.5,1600)(8,1500)(8.3,1400)(8.5,1500)(8.8,1450)(9.1,1400)(9.4,1300)(9.6,1100)(10.1,850)(10.6,600)(10.9,300)(11.1,200)(11.4,250)(11.6,250)(12,150)(12.4,100)(13.2,50)(14.2,20)(15.2,0)(16.2,0)(17.2,0)(17.5,30)(18.3,80)(19.1,200)(19.8,500)(20.3,800)(21.1,1100)(21.6,1400)(22.1,1650)(22.4,1600)(22.6,1900)(23.1,2000)(23.6,1960)(24,1980)(24.5,1960)(25,1990)(25.5,1960)(26,1980)(26.5,1950)(27,1970)(27.5,1960)(28,1990)(28.5,1950)(29,1970)(29.5,1960)(30,1980)(30.5,1950)(31,1970)(31.5,1960)(32,1980)(32.5,1950)(33,1970)(33.5,1960)(34,1980)(34.5,1950)(35,1970)(35.5,1960)(36,1980)(36.5,1950)(37,1970)(37.5,1960)(38,1990)(38.5,1950)(39,1970)(39.5,1960)(40,1980)(40.5,1950)(41,1970)(41.5,1960)(42,1980)(42.5,1950)(43,1970)(43.5,1960)(44,1980)(44.5,1950)(45,1970)(45.5,1960)(46,1980)(46.5,1950)(47,1970)(47.5,1960)(48,1980)(48.5,1950)(49,1970)(49.5,1960)(50,1950)};
\end{axis}
%================ captions =================
\node[font=\capfont\fontsize{10.5}{12}\selectfont] at (108pt,8pt) {(a) Blockage by human body};
\node[font=\capfont\fontsize{10.5}{12}\selectfont] at (319.5pt,8pt) {(b) Blockage by vehicle};
\node[font=\capfont\fontsize{10.5}{12}\selectfont] at (520pt,8pt) {(c) Loss due to blockage};
\end{tikzpicture}
\end{document}
